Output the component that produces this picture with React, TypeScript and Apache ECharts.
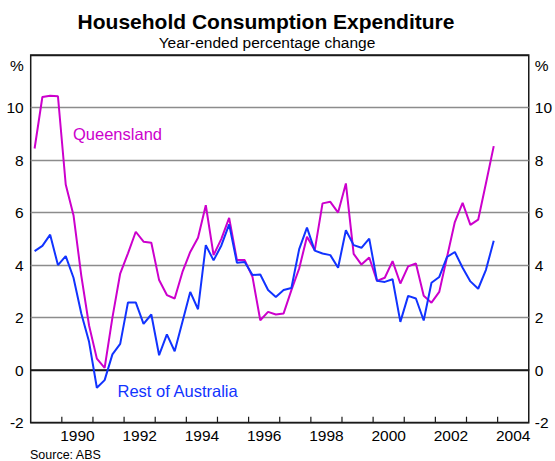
import React, { useEffect, useRef } from "react";
import * as echarts from "echarts";

// Quarterly data, 1989 Q1 to 2003 Q4 (year-ended % change)
const firstQuarterMid = 1989.125;
const queensland = [
  8.44, 10.4, 10.45, 10.43, 7.07, 5.9, 3.6, 1.7, 0.44, 0.09,
  2.0, 3.68, 4.45, 5.27, 4.89, 4.85, 3.43, 2.86, 2.73, 3.74,
  4.5, 5.04, 6.28, 4.38, 5.0, 5.8, 4.19, 4.19, 3.55, 1.9,
  2.22, 2.12, 2.16, 3.05, 3.87, 5.08, 4.57, 6.35, 6.41, 6.0,
  7.11, 4.43, 4.02, 4.29, 3.4, 3.52, 4.15, 3.3, 3.95, 4.06,
  2.83, 2.57, 2.98, 4.31, 5.64, 6.37, 5.53, 5.73, 7.12, 8.53,
];
const restOfAustralia = [
  4.53, 4.73, 5.16, 4.0, 4.34, 3.52, 2.16, 1.08, -0.67, -0.38,
  0.6, 1.0, 2.58, 2.58, 1.76, 2.12, 0.57, 1.36, 0.72, 1.84,
  2.98, 2.32, 4.76, 4.18, 4.75, 5.55, 4.09, 4.12, 3.62, 3.64,
  3.05, 2.79, 3.05, 3.13, 4.61, 5.43, 4.55, 4.44, 4.38, 3.9,
  5.33, 4.76, 4.66, 5.01, 3.4, 3.36, 3.46, 1.84, 2.83, 2.73,
  1.89, 3.33, 3.55, 4.31, 4.5, 3.9, 3.38, 3.1, 3.82, 4.93,
];
const tickYears = [1990, 1991, 1992, 1993, 1994, 1995, 1996, 1997, 1998, 1999, 2000, 2001, 2002, 2003, 2004];
const labelYears = [1990, 1992, 1994, 1996, 1998, 2000, 2002, 2004];

const FONT = "'Liberation Sans', Arial, sans-serif";
const MAGENTA = "#CC00CC";
const BLUE = "#1133FF";

export default function App() {
  const ref = useRef<HTMLDivElement>(null);
  useEffect(() => {
    if (!ref.current) return;
    const chart = echarts.init(ref.current, undefined, { renderer: "svg" });
    const toPairs = (arr: number[]) => arr.map((v, i) => [firstQuarterMid + i * 0.25, v]);
    const yLabel = (v: number) => (v === 12 ? "{p|%}" : String(v));
    const yRich = { p: { fontSize: 15.5, fontFamily: FONT, color: "#000", padding: [20, 0, 0, 0] } };
    chart.setOption({
      animation: false,
      backgroundColor: "#fff",
      textStyle: { fontFamily: FONT },
      grid: {
        left: 30.7,
        right: 23,
        top: 55,
        bottom: 38.3,
        show: true,
        borderColor: "#1a1a1a",
        borderWidth: 1.5,
        backgroundColor: "transparent",
      },
      xAxis: {
        type: "value",
        min: 1989,
        max: 2005,
        interval: 1,
        axisLine: { show: true, lineStyle: { color: "#1a1a1a", width: 1.5 } },
        axisTick: { show: false },
        axisLabel: {
          customValues: labelYears.map((y) => y + 0.5),
          formatter: (v: number) => String(Math.floor(v)),
          fontSize: 15.5,
          fontFamily: FONT,
          color: "#000",
          margin: 5,
        },
        splitLine: { show: false },
      },
      yAxis: [
        {
          type: "value",
          min: -2,
          max: 12,
          interval: 2,
          position: "left",
          axisLine: { show: false },
          axisTick: { show: false },
          axisLabel: { formatter: yLabel, rich: yRich, fontSize: 15.5, fontFamily: FONT, color: "#000", margin: 7 },
          splitLine: {
            show: true,
            lineStyle: {
              color: ["#1a1a1a", "#1a1a1a", "#8c8c8c", "#8c8c8c", "#8c8c8c", "#8c8c8c", "#8c8c8c", "#1a1a1a"],
              width: 1.3,
            },
          },
        },
        {
          type: "value",
          min: -2,
          max: 12,
          interval: 2,
          position: "right",
          axisLine: { show: false },
          axisTick: { show: false },
          axisLabel: { formatter: yLabel, rich: yRich, fontSize: 15.5, fontFamily: FONT, color: "#000", margin: 6 },
          splitLine: { show: false },
        },
      ],
      series: [
        {
          name: "yearTicks",
          type: "custom",
          data: tickYears.map((y) => [y, -2]),
          silent: true,
          z: 10,
          renderItem: (_params: any, api: any) => {
            const p = api.coord([api.value(0), api.value(1)]);
            return {
              type: "line",
              shape: { x1: p[0], y1: p[1], x2: p[0], y2: p[1] - 6 },
              style: { stroke: "#1a1a1a", lineWidth: 1.2 },
            };
          },
        },
        {
          name: "Queensland",
          type: "line",
          data: toPairs(queensland),
          showSymbol: false,
          symbol: "none",
          lineStyle: { color: MAGENTA, width: 2 },
          z: 3,
        },
        {
          name: "Rest of Australia",
          type: "line",
          data: toPairs(restOfAustralia),
          showSymbol: false,
          symbol: "none",
          lineStyle: { color: BLUE, width: 2 },
          z: 4,
        },
      ],
      graphic: [
        {
          type: "text",
          x: 266,
          y: 21.5,
          style: {
            text: "Household Consumption Expenditure",
            font: `bold 21px ${FONT}`,
            fill: "#000",
            align: "center",
            verticalAlign: "middle",
          },
        },
        {
          type: "text",
          x: 267,
          y: 42,
          style: {
            text: "Year-ended percentage change",
            font: `15.5px ${FONT}`,
            fill: "#000",
            align: "center",
            verticalAlign: "middle",
          },
        },
        {
          type: "text",
          x: 73,
          y: 133.5,
          style: { text: "Queensland", font: `16.5px ${FONT}`, fill: MAGENTA, align: "left", verticalAlign: "middle" },
        },
        {
          type: "text",
          x: 117.5,
          y: 390.5,
          style: { text: "Rest of Australia", font: `16.5px ${FONT}`, fill: BLUE, align: "left", verticalAlign: "middle" },
        },
        {
          type: "text",
          x: 30,
          y: 454.5,
          style: { text: "Source: ABS", font: `12.5px ${FONT}`, fill: "#000", align: "left", verticalAlign: "middle" },
        },
      ],
    });
    return () => chart.dispose();
  }, []);
  return <div ref={ref} style={{ position: "fixed", left: 0, top: 0, width: 555, height: 461 }} />;
}
